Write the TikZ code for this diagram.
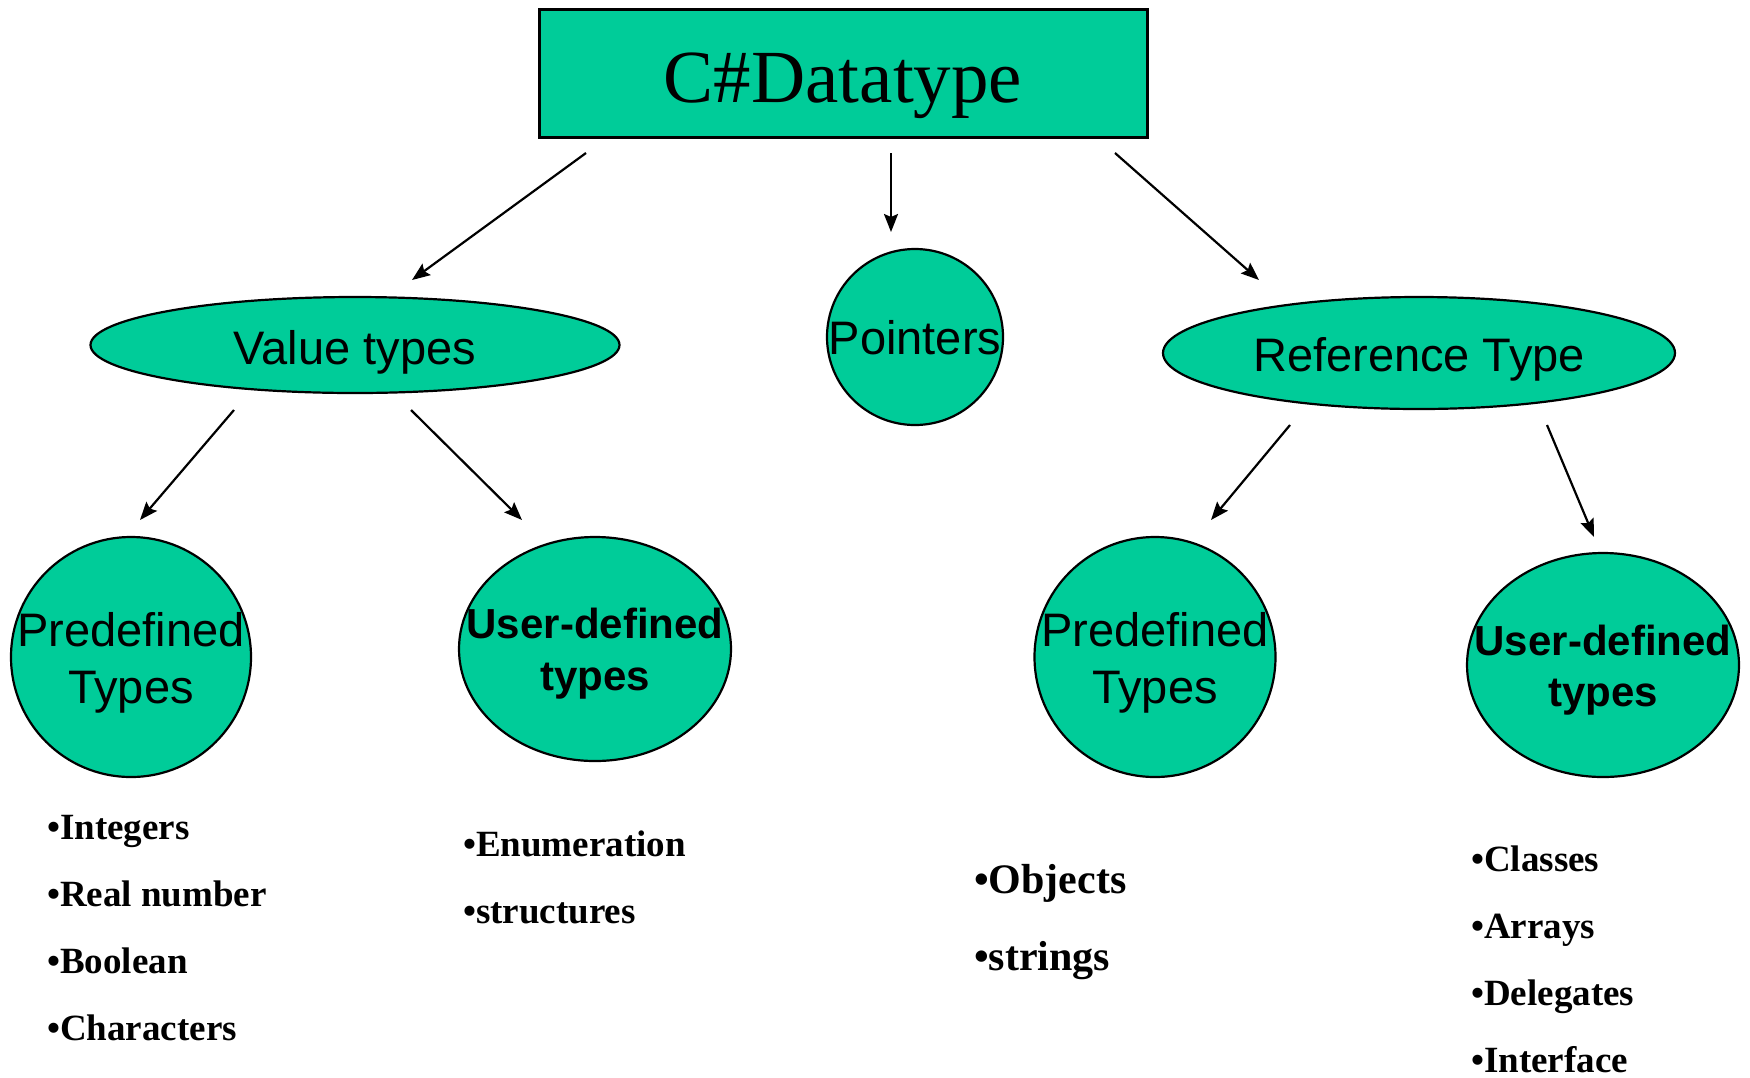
\documentclass[tikz,border=0pt]{standalone}
\usepackage{fontspec}
\setmainfont{Liberation Serif}
\newfontfamily\arialf{Liberation Sans}
\usetikzlibrary{shapes.geometric,arrows.meta}
\definecolor{tealfill}{RGB}{0,204,153}
\tikzset{
  shapebox/.style={draw, line width=2.2pt, fill=tealfill},
  oval/.style={shapebox, ellipse, inner sep=0pt},
  lbl/.style={font=\arialf\fontsize{47}{56}\selectfont, anchor=base, inner sep=0pt},
  lblb/.style={font=\arialf\bfseries\fontsize{42}{50}\selectfont, anchor=base, inner sep=0pt},
  bul/.style={font=\bfseries\fontsize{37}{44}\selectfont, anchor=base west, inner sep=0pt},
  bulbig/.style={font=\bfseries\fontsize{42}{50}\selectfont, anchor=base west, inner sep=0pt},
  arr/.style={-{Stealth[length=18pt,width=14pt,inset=3pt]}, line width=2.2pt},
}
\begin{document}
\begin{tikzpicture}[x=1pt,y=-1pt]
\useasboundingbox (0,0) rectangle (1750,1077);

% root
\node[shapebox, line width=3pt, minimum width=608pt, minimum height=128pt, inner sep=0pt] (root) at (843,73) {};
\node[font=\fontsize{75}{90}\selectfont, anchor=base, inner sep=0pt] (roott) at (843,102) {C\#Datatype};

% second level
\node[oval, minimum width=529pt, minimum height=96pt] (val) at (355,345) {};
\node[lbl] (valt) at (355,364) {Value types};
\node[oval, minimum width=176pt, minimum height=176pt] (ptr) at (915,337) {};
\node[lbl] (ptrt) at (915,354) {Pointers};
\node[oval, minimum width=512pt, minimum height=112pt] (ref) at (1419,353) {};
\node[lbl] (reft) at (1419,371) {Reference Type};

% third level
\node[oval, minimum width=240pt, minimum height=240pt] (vpre) at (131,657) {};
\node[lbl] (vpret1) at (131,646) {Predefined};
\node[lbl] (vpret2) at (131,703) {Types};
\node[oval, minimum width=272pt, minimum height=224pt] (vusr) at (595,649) {};
\node[lblb] (vusrt1) at (595,638) {User-defined};
\node[lblb] (vusrt2) at (595,690) {types};
\node[oval, minimum width=241pt, minimum height=240pt] (rpre) at (1155,657) {};
\node[lbl] (rpret1) at (1155,646) {Predefined};
\node[lbl] (rpret2) at (1155,703) {Types};
\node[oval, minimum width=272pt, minimum height=224pt] (rusr) at (1603,665) {};
\node[lblb] (rusrt1) at (1603,655) {User-defined};
\node[lblb] (rusrt2) at (1603,706) {types};

% bullet lists
\node[bul] (b1) at (47,839) {•Integers};
\node[bul] (b2) at (47,906) {•Real number};
\node[bul] (b3) at (47,973) {•Boolean};
\node[bul] (b4) at (47,1040) {•Characters};
\node[bul] (c1) at (463,856) {•Enumeration};
\node[bul] (c2) at (463,923) {•structures};
\node[bulbig] (d1) at (974,893) {•Objects};
\node[bulbig] (d2) at (974,970) {•strings};
\node[bul] (e1) at (1471,871) {•Classes};
\node[bul] (e2) at (1471,938) {•Arrays};
\node[bul] (e3) at (1471,1005) {•Delegates};
\node[bul] (e4) at (1471,1072) {•Interface};

% arrow end points
\coordinate (a1s) at (586,153);  \coordinate (a1e) at (412,280);
\coordinate (a2s) at (891,153);  \coordinate (a2e) at (891,232);
\coordinate (a3s) at (1115,153); \coordinate (a3e) at (1259,280);
\coordinate (a4s) at (234,410);  \coordinate (a4e) at (140,520);
\coordinate (a5s) at (411,410);  \coordinate (a5e) at (522,520);
\coordinate (a6s) at (1290,425); \coordinate (a6e) at (1211,520);
\coordinate (a7s) at (1547,425); \coordinate (a7e) at (1594,537);

\draw[arr] (a1s) -- (a1e);
\draw[arr] (a2s) -- (a2e);
\draw[arr] (a3s) -- (a3e);
\draw[arr] (a4s) -- (a4e);
\draw[arr] (a5s) -- (a5e);
\draw[arr] (a6s) -- (a6e);
\draw[arr] (a7s) -- (a7e);
\end{tikzpicture}
\end{document}
